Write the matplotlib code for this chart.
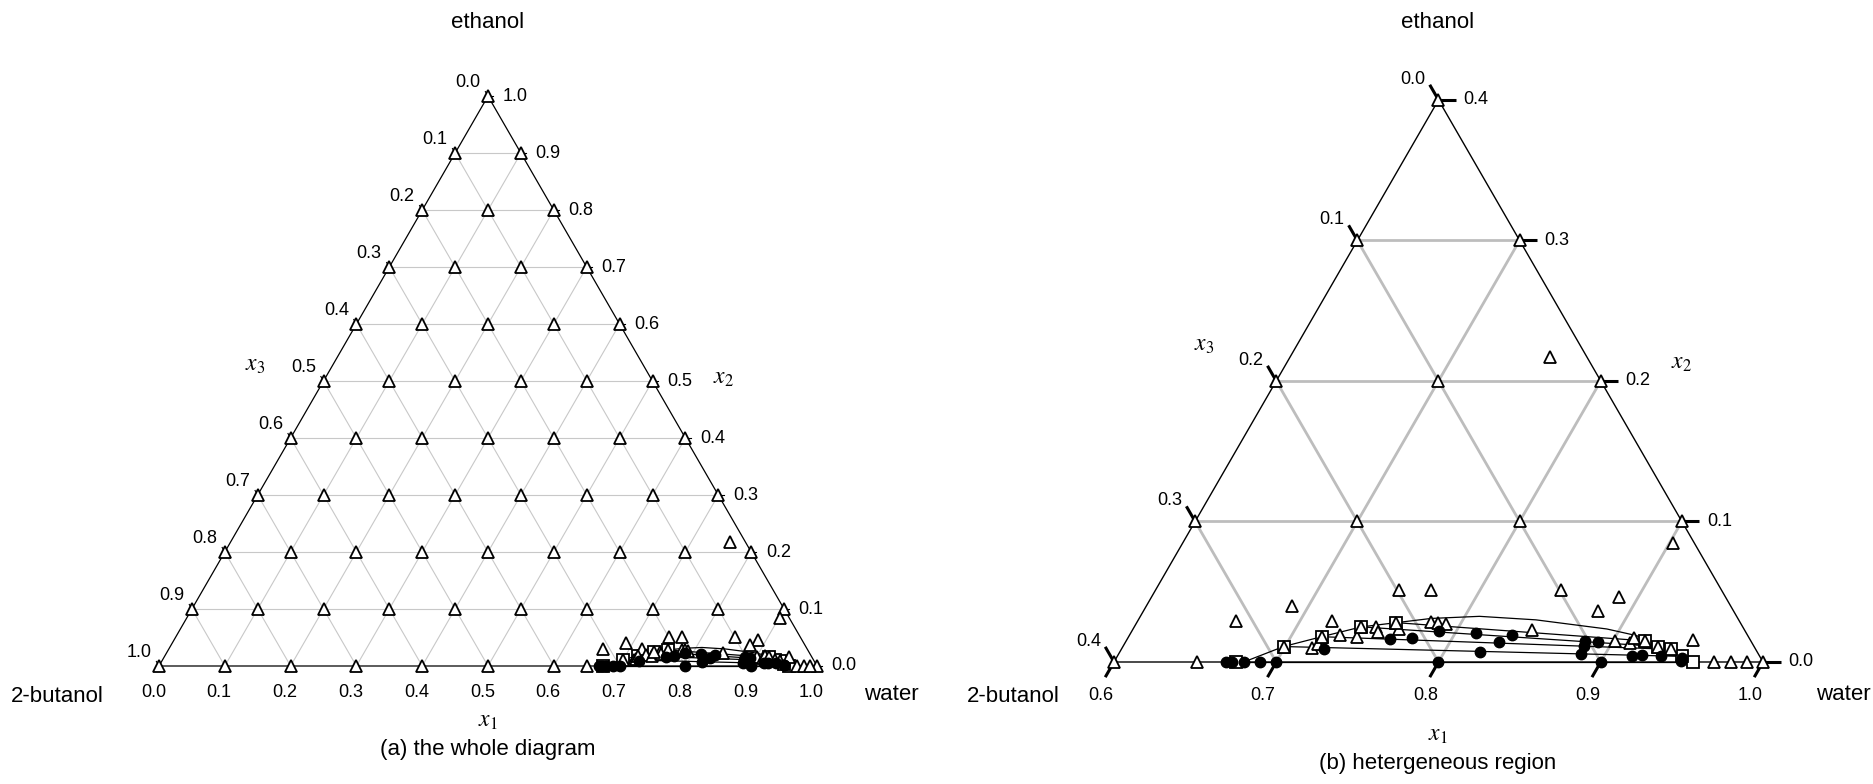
import numpy as np
import matplotlib.pyplot as plt

plt.rcParams['font.family'] = ['Liberation Sans', 'DejaVu Sans']
plt.rcParams['mathtext.fontset'] = 'stix'

FIG_W, FIG_H = 1874, 784
H = np.sqrt(3) / 2

# --- Data: mole fractions x1 (water) and x2 (ethanol); x3 = 1 - x1 - x2 ---
grid_levels = [0.0, 0.1, 0.2, 0.3, 0.4, 0.5, 0.6, 0.7, 0.8, 0.9, 1.0]
grid_split = [(0.7, 0.0), (0.8, 0.0), (0.9, 0.0)]  # grid points that split

# extra stable (single phase) points
stable_x1 = [0.651, 0.661, 0.690, 0.720, 0.750, 0.770, 0.850, 0.888, 0.880,
             0.902, 0.760, 0.949, 0.970, 0.980, 0.990,
             0.717, 0.719, 0.730, 0.741, 0.749, 0.752, 0.764, 0.781, 0.786,
             0.791, 0.846, 0.901, 0.911, 0.912,
             0.699, 0.719, 0.740, 0.760, 0.920, 0.930, 0.939]
stable_x2 = [0.000, 0.029, 0.040, 0.029, 0.051, 0.051, 0.051, 0.046, 0.036,
             0.085, 0.217, 0.016, 0.000, 0.000, 0.000,
             0.010, 0.013, 0.019, 0.0175, 0.0247, 0.021, 0.0234, 0.0285, 0.028,
             0.027, 0.0227, 0.015, 0.0138, 0.0168,
             0.011, 0.018, 0.025, 0.028, 0.015, 0.011, 0.009]

# unstable (two phase) points
split_x1 = [0.669, 0.673, 0.680, 0.690, 0.700, 0.800, 0.900,
            0.725, 0.762, 0.775, 0.789, 0.813, 0.822, 0.830, 0.836,
            0.883, 0.884, 0.885, 0.891, 0.917, 0.923, 0.935, 0.949, 0.949]
split_x2 = [0.000, 0.000, 0.000, 0.000, 0.000, 0.000, 0.000,
            0.0092, 0.0163, 0.0168, 0.0222, 0.0205, 0.0070, 0.0140, 0.0190,
            0.0152, 0.0112, 0.0057, 0.0144, 0.0045, 0.0050, 0.0045, 0.0025, 0.0010]

# tie line end points
tie_left_x1 = [0.675, 0.699, 0.719, 0.740, 0.760]
tie_left_x2 = [0.000, 0.011, 0.018, 0.025, 0.028]
tie_right_x1 = [0.957, 0.948, 0.939, 0.930, 0.920]
tie_right_x2 = [0.000, 0.004, 0.009, 0.011, 0.015]

# phase boundary
binodal_x1 = [0.680, 0.699, 0.719, 0.740, 0.760, 0.780, 0.809, 0.845, 0.892,
              0.913, 0.920, 0.930, 0.939, 0.948, 0.957]
binodal_x2 = [0.000, 0.011, 0.018, 0.025, 0.028, 0.031, 0.0325, 0.030, 0.0235,
              0.0187, 0.015, 0.011, 0.009, 0.004, 0.000]


def tern(x1, x2, lo, span):
    x1 = np.asarray(x1, float)
    x2 = np.asarray(x2, float)
    a = (x1 - lo) / span
    b = x2 / span
    return a + b / 2, b * H


def inside(x1, x2, lo):
    x1 = np.asarray(x1, float)
    x2 = np.asarray(x2, float)
    return (x1 >= lo - 1e-9) & (x2 <= 1 - lo + 1e-9)


def make_axes(fig, px_left, px_right, bl_px, side_px):
    ax = fig.add_axes([px_left / FIG_W, 0, (px_right - px_left) / FIG_W, 1])
    ax.set_xlim((px_left - bl_px[0]) / side_px, (px_right - bl_px[0]) / side_px)
    y0 = FIG_H - bl_px[1]
    ax.set_ylim(-y0 / side_px, (FIG_H - y0) / side_px)
    ax.axis('off')
    return ax


def draw_panel(ax, lo, step, grid_kw, edge_lw, tick_len, tick_kw, lab_off, fs):
    span = 1 - lo
    n = int(round(span / step))
    levels = [round(i * step, 2) for i in range(n + 1)]

    # grid lines
    for c in levels[1:-1]:
        x, y = tern([lo, 1 - c], [c, c], lo, span)           # const x2
        ax.plot(x, y, **grid_kw, zorder=1)
        x, y = tern([lo + c, lo + c], [0, span - c], lo, span)  # const x1
        ax.plot(x, y, **grid_kw, zorder=1)
        x, y = tern([1 - c, lo], [0, span - c], lo, span)      # const x3
        ax.plot(x, y, **grid_kw, zorder=1)

    # triangle frame
    x, y = tern([lo, 1, lo, lo], [0, 0, span, 0], lo, span)
    ax.plot(x, y, color='black', lw=edge_lw, zorder=2, solid_joinstyle='miter')

    # ticks and tick labels
    for c in levels:
        # x1 along the bottom
        px, py = tern(lo + c, 0, lo, span)
        ax.plot([px, px - 0.5 * tick_len], [py, py - H * tick_len], **tick_kw)
        ax.annotate(f'{lo + c:.1f}', (px, py), xytext=lab_off['bottom'],
                    textcoords='offset points', ha='center', va='center', fontsize=fs)
        # x2 along the right edge
        px, py = tern(1 - c, c, lo, span)
        ax.plot([px, px + tick_len], [py, py], **tick_kw)
        ax.annotate(f'{c:.1f}', (px, py), xytext=lab_off['right'],
                    textcoords='offset points', ha='left', va='center', fontsize=fs)
        # x3 along the left edge
        px, py = tern(lo, span - c, lo, span)
        ax.plot([px, px - 0.5 * tick_len], [py, py + H * tick_len], **tick_kw)
        ax.annotate(f'{c:.1f}', (px, py), xytext=lab_off['left'],
                    textcoords='offset points', ha='center', va='center', fontsize=fs)

    # phase boundary and tie lines
    x, y = tern(binodal_x1, binodal_x2, lo, span)
    ax.plot(x, y, color='black', lw=0.9, zorder=3)
    for l1, l2, r1, r2 in zip(tie_left_x1, tie_left_x2, tie_right_x1, tie_right_x2):
        x, y = tern([l1, r1], [l2, r2], lo, span)
        ax.plot(x, y, color='black', lw=0.9, zorder=3)

    # tie line ends
    x, y = tern(tie_left_x1 + tie_right_x1, tie_left_x2 + tie_right_x2, lo, span)
    ax.plot(x, y, 's', ms=8.5, mfc='white', mec='black', mew=1.3, zorder=4)

    # stable points: grid and extra
    gx1, gx2 = [], []
    for a in grid_levels:
        for b in grid_levels:
            if a + b <= 1 + 1e-9 and (a, b) not in grid_split:
                gx1.append(a)
                gx2.append(b)
    sx1 = np.array(gx1 + stable_x1)
    sx2 = np.array(gx2 + stable_x2)
    m = inside(sx1, sx2, lo)
    x, y = tern(sx1[m], sx2[m], lo, span)
    ax.plot(x, y, '^', ms=8, mfc='white', mec='black', mew=1.3, zorder=5,
            clip_on=False)

    # unstable points
    x, y = tern(split_x1, split_x2, lo, span)
    ax.plot(x, y, 'o', ms=7.5, color='black', zorder=6)


fig = plt.figure(figsize=(FIG_W / 100, FIG_H / 100), dpi=100)

# (a) the whole diagram
ax_a = make_axes(fig, 0, 937, (159, 666), 658)
draw_panel(ax_a, 0.0, 0.1,
           grid_kw=dict(color='#c8c8c8', lw=0.8),
           edge_lw=0.9, tick_len=0.008,
           tick_kw=dict(color='black', lw=0.8, zorder=2),
           lab_off={'bottom': (-4, -19), 'right': (10.5, 0), 'left': (-14.5, 9.5)},
           fs=13)

# (b) zoom on the two phase region
ax_b = make_axes(fig, 937, FIG_W, (1114, 662), 649)
draw_panel(ax_b, 0.6, 0.1,
           grid_kw=dict(color='#bdbdbd', lw=2.0),
           edge_lw=1.0, tick_len=0.027,
           tick_kw=dict(color='black', lw=2.2, zorder=2, solid_capstyle='butt'),
           lab_off={'bottom': (-9.5, -24), 'right': (18, 0), 'left': (-18.5, 15)},
           fs=13)


def label(px, py, s, **kw):
    kw.setdefault('fontsize', 16)
    fig.text(px / FIG_W, 1 - py / FIG_H, s, ha='center', va='center', **kw)


label(488, 22, 'ethanol')
label(57, 697, '2-butanol')
label(891, 695, 'water')
label(255, 365, '$x_3$', fontsize=17)
label(723, 378, '$x_2$', fontsize=17)
label(488, 721, '$x_1$', fontsize=17)
label(488, 750, '(a) the whole diagram')

label(1438, 22, 'ethanol')
label(1013, 696, '2-butanol')
label(1843, 694, 'water')
label(1204, 345, '$x_3$', fontsize=17)
label(1681, 363, '$x_2$', fontsize=17)
label(1438, 735, '$x_1$', fontsize=17)
label(1438, 764, '(b) hetergeneous region')

fig.savefig('out.png', dpi=100)
